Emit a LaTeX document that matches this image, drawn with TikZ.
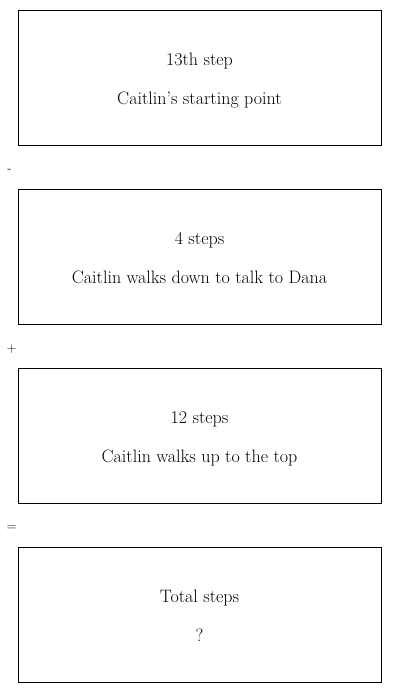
\documentclass[tikz,border=0pt]{standalone}
\usetikzlibrary{positioning}

\tikzset{
  stepbox/.style={draw, line width=0.8pt, minimum width=363pt, minimum height=135pt,
    align=center, font=\fontsize{18}{21}\selectfont, inner sep=0pt},
  opsign/.style={font=\fontsize{13}{15}\selectfont, inner sep=0pt}
}
% struts so every box puts its two lines at the same height
\newcommand{\lowerit}{\rule{0pt}{19pt}}
\newcommand{\deepit}{\rule[-3.5pt]{0pt}{1pt}}

\begin{document}
\begin{tikzpicture}[x=1pt, y=1pt, node distance=43.2pt]
            % Frame
            \useasboundingbox (0,0) rectangle (400,-693);

            % Boxes
            \node[stepbox] (start) at (199.5,-77.5) {\lowerit 13th step\\[18pt]Caitlin's starting point\deepit};
            \node[stepbox, below=of start] (down) {\lowerit 4 steps\\[18pt]Caitlin walks down to talk to Dana\deepit};
            \node[stepbox, below=of down] (up) {\lowerit 12 steps\\[18pt]Caitlin walks up to the top\deepit};
            \node[stepbox, below=of up] (total) {\lowerit Total steps\\[18pt]?\deepit};

            % Signs between the boxes
            \node[opsign] (minus) at ([shift={(-8pt,-26pt)}]start.south west) {-};
            \node[opsign] (plus) at ([shift={(-6pt,-25pt)}]down.south west) {+};
            \node[opsign] (equals) at ([shift={(-6pt,-25pt)}]up.south west) {=};
        \end{tikzpicture}
\end{document}
